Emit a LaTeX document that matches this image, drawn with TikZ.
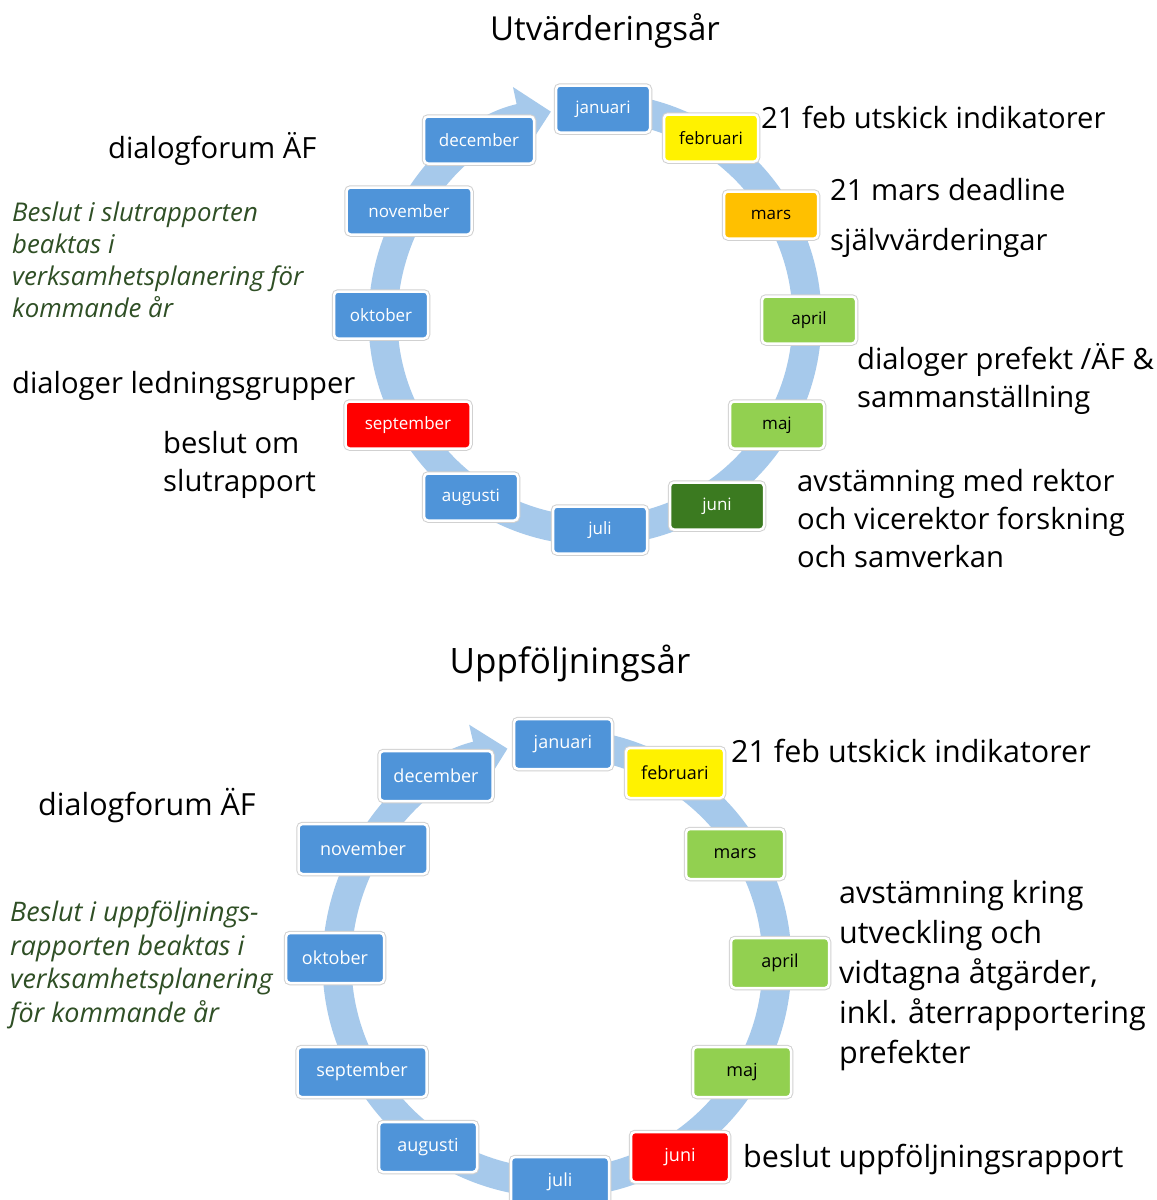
\documentclass[tikz,border=0pt]{standalone}
\usepackage{fontspec}
\setmainfont{Open Sans}
\usetikzlibrary{arrows.meta}
\definecolor{monthblue}{HTML}{4F94D9}
\definecolor{ringblue}{HTML}{A6C9EB}
\definecolor{darkjune}{HTML}{3B7A20}
\definecolor{lightgreen}{HTML}{92D050}
\definecolor{marsorange}{HTML}{FFC000}
\definecolor{notegreen}{HTML}{2F4F25}
\begin{document}
\begin{tikzpicture}[x=1pt,y=-1pt,
	month/.style={rounded corners=4pt, fill=monthblue, text=white, draw=white, line width=2.5pt,
		preaction={draw=black!18, line width=4.5pt}, minimum height=47pt, minimum width=94pt,
		inner sep=0pt, font=\fontsize{17}{20}\selectfont},
	monthF/.style={month, minimum height=50pt, minimum width=98pt, font=\fontsize{18}{21}\selectfont},
	dark/.style={text=black},
	ring/.style={draw=ringblue, line width=29pt, -{Triangle[width=62pt,length=32pt]}},
	note/.style={anchor=west, inner sep=0pt, align=left, font=\fontsize{29.2}{38}\selectfont},
	noteF/.style={note, font=\fontsize{30.5}{40}\selectfont},
	decision/.style={anchor=west, inner sep=0pt, align=left, text=notegreen, font=\fontsize{25.8}{32}\selectfont\itshape},
	heading/.style={inner sep=0pt, font=\fontsize{33}{38}\selectfont}]
		\useasboundingbox (0,0) rectangle (1157,1200);
		\fill[white] (0,0) rectangle (1157,1200);
		\coordinate (ctrU) at (595,319);
		\coordinate (ctrF) at (557,963);
		\draw[ring] (ctrU) ++(-85:212) arc[start angle=-85, end angle=258, radius=212];
		\draw[ring] (ctrF) ++(-85:220) arc[start angle=-85, end angle=257, radius=220];
		\node[heading] (titleU) at (605,31){Utvärderingsår};
		\node[month] (janU) at (603,109){januari};
		\node[month, fill=yellow, dark] (febU) at (711,138){februari};
		\node[month, fill=marsorange, dark] (marU) at (771,215){mars};
		\node[month, fill=lightgreen, dark] (aprU) at (809,320){april};
		\node[month, fill=lightgreen, dark] (majU) at (777,425){maj};
		\node[month, fill=darkjune] (junU) at (717,506){juni};
		\node[month] (julU) at (600,530){juli};
		\node[month] (augU) at (471,497){augusti};
		\node[month, fill=red, minimum width=125pt] (sepU) at (408,425){september};
		\node[month] (oktU) at (381,315){oktober};
		\node[month, minimum width=125pt] (novU) at (409,211){november};
		\node[month, minimum width=110pt] (decU) at (479,140){december};
		\node[note] (febNoteU) at (761,117){21 feb utskick indikatorer};
		\node[note, font=\fontsize{29.2}{50}\selectfont] (marNoteU) at (830,218){21 mars deadline\\självvärderingar};
		\node[note] (aprNoteU) at (857,379){dialoger prefekt /ÄF \&\\sammanställning};
		\node[note] (junNoteU) at (797,519){avstämning med rektor\\och vicerektor forskning\\och samverkan};
		\node[note] (forumU) at (108,149){dialogforum ÄF};
		\node[decision] (beslutU) at (12,260){Beslut i slutrapporten\\beaktas i\\verksamhetsplanering för\\kommande år};
		\node[note] (sepNoteU) at (12,386){dialoger ledningsgrupper};
		\node[note] (slutU) at (163,465){beslut om\\slutrapport};
		\node[heading, font=\fontsize{35}{40}\selectfont] (titleF) at (570,663){Uppföljningsår};
		\node[monthF] (janF) at (563,744){januari};
		\node[monthF, fill=yellow, dark] (febF) at (675,773){februari};
		\node[monthF, fill=lightgreen, dark] (marF) at (735,854){mars};
		\node[monthF, fill=lightgreen, dark] (aprF) at (780,963){april};
		\node[monthF, fill=lightgreen, dark] (majF) at (742,1072){maj};
		\node[monthF, fill=red] (junF) at (680,1157){juni};
		\node[monthF] (julF) at (560,1182){juli};
		\node[monthF] (augF) at (428,1147){augusti};
		\node[monthF, minimum width=129pt] (sepF) at (362,1072){september};
		\node[monthF] (oktF) at (335,958){oktober};
		\node[monthF, minimum width=129pt] (novF) at (363,849){november};
		\node[monthF, minimum width=113pt] (decF) at (436,776){december};
		\node[noteF] (febNoteF) at (731,751){21 feb utskick indikatorer};
		\node[noteF] (forumF) at (38,806){dialogforum ÄF};
		\node[decision, font=\fontsize{26.9}{33.5}\selectfont\itshape] (beslutF) at (10,965){Beslut i uppföljnings-\\rapporten beaktas i\\verksamhetsplanering\\för kommande år};
		\node[noteF] (kringF) at (839,976){avstämning kring\\utveckling och\\vidtagna åtgärder,\\inkl. återrapportering\\prefekter};
		\node[noteF] (junNoteF) at (743,1159){beslut uppföljningsrapport};
	\end{tikzpicture}
\end{document}
